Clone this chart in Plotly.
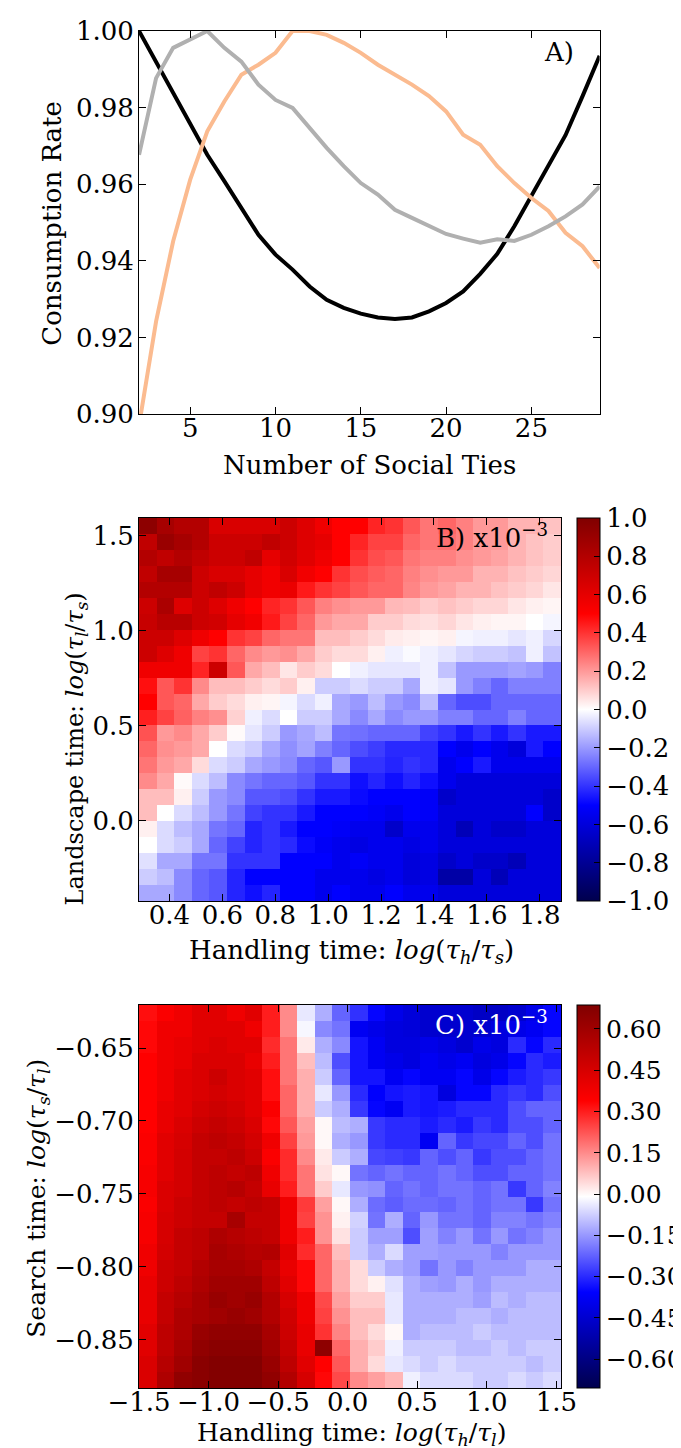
import numpy as np
import plotly.graph_objects as go

FONT = "DejaVu Serif"

# ---------------- Panel A data ----------------
ties = list(range(2, 30))
rate_black = [1.000, 0.9919, 0.9838, 0.9755, 0.9677, 0.9608, 0.9538, 0.9468, 0.9416, 0.9377,
              0.9333, 0.9298, 0.9277, 0.9262, 0.9252, 0.9248, 0.9252, 0.9268, 0.9290, 0.9320,
              0.9366, 0.9418, 0.9490, 0.9571, 0.9650, 0.9728, 0.9830, 0.9935]
rate_grey = [0.9677, 0.9877, 0.9956, 0.9977, 1.000, 0.9956, 0.9920, 0.9860, 0.9820, 0.9799,
             0.9747, 0.9695, 0.9647, 0.9603, 0.9573, 0.9533, 0.9512, 0.9490, 0.9470, 0.9458,
             0.9447, 0.9456, 0.9452, 0.9468, 0.9490, 0.9516, 0.9547, 0.9594]
rate_orange = [0.897, 0.9242, 0.9451, 0.9612, 0.9738, 0.9816, 0.9886, 0.9912, 0.9943, 1.000,
               1.000, 0.9990, 0.9969, 0.9943, 0.9912, 0.9886, 0.9860, 0.9830, 0.9790, 0.9729,
               0.9703, 0.9647, 0.9603, 0.9564, 0.9530, 0.9473, 0.9438, 0.9381]

# ---------------- Panel B data (rows top -> bottom, 24 x 24) ----------------
B_X_EXTENT = [0.285, 1.88]
B_Y_EXTENT = [-0.424, 1.592]
B_Z_TOP_DOWN = [
    [0.95, 0.85, 0.80, 0.80, 0.65, 0.65, 0.65, 0.65, 0.70, 0.63, 0.56, 0.50, 0.50, 0.43, 0.40, 0.33, 0.27, 0.30, 0.25, 0.20, 0.20, 0.15, 0.15, 0.12],
    [0.75, 0.90, 0.85, 0.80, 0.70, 0.70, 0.70, 0.75, 0.70, 0.63, 0.60, 0.50, 0.43, 0.37, 0.37, 0.30, 0.27, 0.28, 0.25, 0.20, 0.20, 0.15, 0.12, 0.10],
    [0.80, 0.75, 0.80, 0.75, 0.70, 0.70, 0.75, 0.60, 0.68, 0.62, 0.56, 0.50, 0.40, 0.35, 0.33, 0.27, 0.25, 0.25, 0.22, 0.20, 0.18, 0.15, 0.12, 0.10],
    [0.75, 0.85, 0.85, 0.70, 0.65, 0.65, 0.60, 0.55, 0.65, 0.55, 0.50, 0.40, 0.35, 0.32, 0.30, 0.25, 0.22, 0.20, 0.20, 0.15, 0.15, 0.12, 0.10, 0.08],
    [0.80, 0.80, 0.80, 0.70, 0.75, 0.70, 0.60, 0.55, 0.58, 0.45, 0.40, 0.37, 0.33, 0.30, 0.30, 0.24, 0.20, 0.18, 0.15, 0.15, 0.12, 0.10, 0.08, 0.05],
    [0.70, 0.83, 0.63, 0.70, 0.63, 0.56, 0.50, 0.43, 0.40, 0.33, 0.25, 0.22, 0.20, 0.20, 0.14, 0.13, 0.10, 0.12, 0.10, 0.08, 0.08, 0.05, 0.03, 0.02],
    [0.72, 0.78, 0.78, 0.70, 0.68, 0.60, 0.55, 0.45, 0.37, 0.30, 0.20, 0.17, 0.17, 0.10, 0.10, 0.07, 0.06, 0.08, 0.05, 0.03, 0.02, 0.02, 0.00, -0.02],
    [0.70, 0.70, 0.63, 0.56, 0.50, 0.40, 0.37, 0.30, 0.27, 0.27, 0.13, 0.13, 0.10, 0.07, 0.04, 0.03, 0.02, 0.03, -0.02, -0.03, -0.03, -0.05, -0.03, -0.08],
    [0.70, 0.63, 0.56, 0.37, 0.40, 0.30, 0.23, 0.20, 0.22, 0.17, 0.10, 0.07, 0.07, 0.03, -0.03, -0.01, -0.03, -0.05, -0.08, -0.10, -0.10, -0.12, -0.03, -0.12],
    [0.56, 0.56, 0.56, 0.43, 0.70, 0.33, 0.17, 0.13, 0.05, 0.10, 0.07, 0.00, -0.03, -0.05, -0.05, -0.05, -0.03, -0.12, -0.20, -0.20, -0.20, -0.18, -0.20, -0.25],
    [0.47, 0.33, 0.40, 0.23, 0.13, 0.13, 0.10, 0.07, 0.10, 0.03, -0.10, -0.10, -0.07, -0.10, -0.10, -0.17, -0.03, -0.05, -0.20, -0.25, -0.30, -0.25, -0.25, -0.25],
    [0.50, 0.33, 0.30, 0.17, 0.10, 0.07, 0.03, 0.02, -0.02, -0.07, -0.03, -0.17, -0.20, -0.13, -0.20, -0.23, -0.13, -0.30, -0.35, -0.35, -0.30, -0.30, -0.30, -0.30],
    [0.44, 0.37, 0.31, 0.25, 0.22, 0.09, -0.03, -0.07, 0.00, -0.10, -0.10, -0.17, -0.23, -0.17, -0.23, -0.20, -0.20, -0.25, -0.25, -0.30, -0.30, -0.25, -0.30, -0.30],
    [0.34, 0.20, 0.23, 0.17, 0.10, 0.01, -0.05, -0.10, -0.20, -0.17, -0.13, -0.27, -0.28, -0.30, -0.30, -0.30, -0.37, -0.40, -0.45, -0.40, -0.45, -0.40, -0.45, -0.45],
    [0.30, 0.22, 0.20, 0.17, 0.00, -0.07, -0.10, -0.17, -0.22, -0.18, -0.25, -0.30, -0.35, -0.38, -0.42, -0.42, -0.42, -0.50, -0.55, -0.50, -0.55, -0.60, -0.45, -0.50],
    [0.27, 0.20, 0.17, 0.07, -0.07, -0.10, -0.17, -0.20, -0.23, -0.30, -0.33, -0.20, -0.40, -0.40, -0.43, -0.40, -0.42, -0.55, -0.50, -0.45, -0.55, -0.55, -0.55, -0.55],
    [0.23, 0.17, 0.01, -0.07, -0.13, -0.23, -0.27, -0.30, -0.30, -0.33, -0.40, -0.40, -0.47, -0.43, -0.47, -0.43, -0.47, -0.55, -0.60, -0.60, -0.60, -0.60, -0.60, -0.60],
    [0.13, 0.13, 0.03, -0.10, -0.20, -0.23, -0.33, -0.33, -0.35, -0.40, -0.45, -0.45, -0.48, -0.50, -0.50, -0.50, -0.52, -0.65, -0.60, -0.60, -0.60, -0.60, -0.60, -0.65],
    [0.13, 0.00, -0.07, -0.13, -0.20, -0.27, -0.37, -0.40, -0.40, -0.45, -0.50, -0.50, -0.50, -0.52, -0.55, -0.50, -0.52, -0.60, -0.60, -0.60, -0.60, -0.60, -0.50, -0.65],
    [0.03, -0.07, -0.13, -0.17, -0.27, -0.30, -0.43, -0.40, -0.45, -0.50, -0.50, -0.52, -0.55, -0.55, -0.65, -0.55, -0.55, -0.60, -0.70, -0.60, -0.65, -0.65, -0.60, -0.60],
    [0.00, -0.07, -0.10, -0.17, -0.30, -0.37, -0.43, -0.40, -0.42, -0.48, -0.52, -0.55, -0.58, -0.55, -0.55, -0.58, -0.55, -0.60, -0.60, -0.60, -0.60, -0.60, -0.60, -0.60],
    [-0.06, -0.17, -0.17, -0.27, -0.27, -0.40, -0.40, -0.40, -0.50, -0.50, -0.50, -0.55, -0.52, -0.55, -0.55, -0.60, -0.58, -0.65, -0.60, -0.65, -0.65, -0.70, -0.60, -0.60],
    [-0.10, -0.13, -0.23, -0.30, -0.33, -0.43, -0.50, -0.50, -0.50, -0.50, -0.55, -0.55, -0.55, -0.58, -0.55, -0.60, -0.58, -0.75, -0.75, -0.60, -0.70, -0.60, -0.60, -0.60],
    [-0.17, -0.17, -0.23, -0.30, -0.33, -0.43, -0.47, -0.43, -0.50, -0.50, -0.55, -0.50, -0.55, -0.55, -0.50, -0.55, -0.55, -0.60, -0.60, -0.60, -0.60, -0.60, -0.60, -0.60],
]

# ---------------- Panel C data (rows top -> bottom, 24 x 24) ----------------
C_X_EXTENT = [-1.5, 1.533]
C_Y_EXTENT = [-0.883, -0.6205]
C_Z_TOP_DOWN = [
    [0.32, 0.35, 0.38, 0.42, 0.42, 0.38, 0.42, 0.30, 0.15, -0.04, -0.12, -0.22, -0.29, -0.35, -0.40, -0.43, -0.45, -0.45, -0.45, -0.47, -0.47, -0.45, -0.40, -0.35],
    [0.33, 0.38, 0.38, 0.42, 0.42, 0.42, 0.38, 0.30, 0.15, -0.02, -0.17, -0.20, -0.38, -0.40, -0.42, -0.43, -0.45, -0.45, -0.45, -0.45, -0.42, -0.40, -0.38, -0.35],
    [0.33, 0.38, 0.40, 0.42, 0.44, 0.42, 0.42, 0.28, 0.18, 0.02, -0.12, -0.17, -0.33, -0.38, -0.42, -0.42, -0.40, -0.42, -0.45, -0.40, -0.42, -0.30, -0.35, -0.30],
    [0.34, 0.38, 0.40, 0.44, 0.44, 0.44, 0.40, 0.30, 0.18, 0.08, -0.10, -0.25, -0.33, -0.38, -0.40, -0.42, -0.38, -0.40, -0.38, -0.42, -0.40, -0.35, -0.30, -0.32],
    [0.34, 0.38, 0.42, 0.44, 0.48, 0.44, 0.42, 0.32, 0.18, 0.10, -0.08, -0.22, -0.33, -0.33, -0.38, -0.35, -0.38, -0.38, -0.35, -0.40, -0.35, -0.32, -0.30, -0.28],
    [0.34, 0.38, 0.42, 0.44, 0.46, 0.44, 0.42, 0.32, 0.20, 0.10, -0.04, -0.15, -0.30, -0.36, -0.33, -0.32, -0.33, -0.42, -0.35, -0.35, -0.30, -0.28, -0.30, -0.25],
    [0.34, 0.40, 0.42, 0.46, 0.48, 0.46, 0.42, 0.35, 0.20, 0.10, -0.08, -0.12, -0.28, -0.35, -0.38, -0.32, -0.33, -0.32, -0.30, -0.30, -0.30, -0.25, -0.22, -0.22],
    [0.34, 0.40, 0.44, 0.48, 0.50, 0.48, 0.44, 0.33, 0.22, 0.12, 0.00, -0.10, -0.12, -0.28, -0.30, -0.30, -0.32, -0.30, -0.32, -0.28, -0.30, -0.25, -0.25, -0.22],
    [0.35, 0.42, 0.45, 0.50, 0.52, 0.50, 0.46, 0.38, 0.25, 0.13, 0.00, -0.12, -0.15, -0.28, -0.30, -0.30, -0.38, -0.22, -0.28, -0.26, -0.26, -0.22, -0.25, -0.20],
    [0.35, 0.42, 0.46, 0.50, 0.50, 0.52, 0.48, 0.35, 0.28, 0.15, 0.02, -0.08, -0.12, -0.26, -0.27, -0.28, -0.22, -0.25, -0.22, -0.28, -0.25, -0.25, -0.22, -0.20],
    [0.36, 0.42, 0.46, 0.50, 0.52, 0.50, 0.52, 0.38, 0.28, 0.18, 0.03, 0.00, -0.20, -0.22, -0.20, -0.22, -0.22, -0.20, -0.22, -0.25, -0.25, -0.22, -0.22, -0.20],
    [0.36, 0.44, 0.46, 0.50, 0.52, 0.54, 0.50, 0.40, 0.30, 0.18, 0.06, -0.04, -0.15, -0.16, -0.22, -0.20, -0.22, -0.20, -0.20, -0.22, -0.20, -0.28, -0.22, -0.18],
    [0.35, 0.44, 0.48, 0.50, 0.52, 0.50, 0.52, 0.50, 0.38, 0.26, 0.12, 0.00, -0.12, -0.21, -0.23, -0.21, -0.21, -0.22, -0.20, -0.22, -0.20, -0.20, -0.28, -0.20],
    [0.36, 0.45, 0.48, 0.50, 0.50, 0.58, 0.50, 0.50, 0.38, 0.25, 0.14, 0.01, -0.07, -0.20, -0.12, -0.22, -0.15, -0.20, -0.20, -0.22, -0.18, -0.18, -0.20, -0.18],
    [0.36, 0.45, 0.50, 0.52, 0.56, 0.54, 0.52, 0.50, 0.38, 0.30, 0.14, 0.03, -0.08, -0.14, -0.14, -0.25, -0.14, -0.18, -0.15, -0.20, -0.15, -0.20, -0.18, -0.15],
    [0.38, 0.46, 0.50, 0.52, 0.58, 0.56, 0.54, 0.55, 0.42, 0.28, 0.20, 0.08, -0.08, -0.12, -0.06, -0.14, -0.14, -0.15, -0.15, -0.15, -0.18, -0.15, -0.15, -0.15],
    [0.38, 0.48, 0.50, 0.55, 0.58, 0.58, 0.56, 0.50, 0.40, 0.33, 0.20, 0.10, 0.04, -0.08, -0.12, -0.14, -0.20, -0.15, -0.18, -0.15, -0.15, -0.15, -0.12, -0.12],
    [0.40, 0.48, 0.52, 0.56, 0.60, 0.60, 0.60, 0.52, 0.42, 0.33, 0.20, 0.10, 0.04, 0.01, -0.05, -0.12, -0.14, -0.15, -0.12, -0.15, -0.12, -0.12, -0.12, -0.12],
    [0.40, 0.50, 0.54, 0.58, 0.62, 0.60, 0.62, 0.55, 0.45, 0.38, 0.24, 0.12, 0.06, 0.06, -0.04, -0.12, -0.12, -0.12, -0.12, -0.14, -0.10, -0.12, -0.10, -0.10],
    [0.40, 0.50, 0.56, 0.58, 0.60, 0.62, 0.60, 0.55, 0.47, 0.38, 0.25, 0.14, 0.08, 0.08, -0.04, -0.12, -0.12, -0.12, -0.10, -0.10, -0.12, -0.10, -0.10, -0.10],
    [0.42, 0.52, 0.56, 0.62, 0.64, 0.64, 0.64, 0.58, 0.48, 0.40, 0.27, 0.16, 0.08, 0.04, 0.00, -0.12, -0.10, -0.10, -0.10, -0.08, -0.10, -0.10, -0.10, -0.10],
    [0.42, 0.52, 0.58, 0.64, 0.66, 0.66, 0.66, 0.60, 0.50, 0.40, 0.65, 0.20, 0.10, 0.06, -0.03, -0.08, -0.08, -0.08, -0.10, -0.10, -0.08, -0.10, -0.08, -0.08],
    [0.44, 0.54, 0.60, 0.66, 0.68, 0.68, 0.68, 0.62, 0.52, 0.42, 0.34, 0.22, 0.10, 0.04, -0.04, -0.06, -0.08, -0.06, -0.08, -0.08, -0.08, -0.08, -0.10, -0.08],
    [0.44, 0.56, 0.64, 0.66, 0.68, 0.68, 0.68, 0.64, 0.55, 0.45, 0.33, 0.24, 0.15, 0.12, 0.09, -0.03, -0.06, -0.06, -0.06, -0.08, -0.08, -0.06, -0.08, -0.06],
]
C_ZMIN, C_ZMAX = -0.705, 0.687

# tick labels
A_XTICKS = [5, 10, 15, 20, 25]
A_YTICKS = [0.90, 0.92, 0.94, 0.96, 0.98, 1.00]
B_XTICKS = [0.4, 0.6, 0.8, 1.0, 1.2, 1.4, 1.6, 1.8]
B_YTICKS = [0.0, 0.5, 1.0, 1.5]
B_CTICKS = [-1.0, -0.8, -0.6, -0.4, -0.2, 0.0, 0.2, 0.4, 0.6, 0.8, 1.0]
C_XTICKS = [-1.5, -1.0, -0.5, 0.0, 0.5, 1.0, 1.5]
C_YTICKS = [-0.85, -0.80, -0.75, -0.70, -0.65]
C_CTICKS = [-0.60, -0.45, -0.30, -0.15, 0.00, 0.15, 0.30, 0.45, 0.60]

SEISMIC = [[0.0, "rgb(0,0,77)"], [0.25, "rgb(0,0,255)"], [0.5, "rgb(255,255,255)"],
           [0.75, "rgb(255,0,0)"], [1.0, "rgb(128,0,0)"]]

W, H = 681, 1448


def px_x(p):
    return p / W


def px_y(p):
    return 1 - p / H


fig = go.Figure()

# Panel A lines
fig.add_trace(go.Scatter(x=ties, y=rate_black, mode="lines", line=dict(color="black", width=4),
                         xaxis="x", yaxis="y", showlegend=False))
fig.add_trace(go.Scatter(x=ties, y=rate_orange, mode="lines", line=dict(color="#fbbb90", width=4),
                         xaxis="x", yaxis="y", showlegend=False))
fig.add_trace(go.Scatter(x=ties, y=rate_grey, mode="lines", line=dict(color="#b0b0b0", width=4),
                         xaxis="x", yaxis="y", showlegend=False))

# Panel B heatmap
bx = np.linspace(B_X_EXTENT[0], B_X_EXTENT[1], len(B_Z_TOP_DOWN[0]) + 1)
by = np.linspace(B_Y_EXTENT[0], B_Y_EXTENT[1], len(B_Z_TOP_DOWN) + 1)
fig.add_trace(go.Heatmap(
    x=bx, y=by, z=B_Z_TOP_DOWN[::-1], zmin=-1.0, zmax=1.0, colorscale=SEISMIC,
    xaxis="x2", yaxis="y2", zsmooth=False,
    colorbar=dict(x=px_x(573), xanchor="left", xpad=0, ypad=0, thickness=23,
                  lenmode="fraction", len=383 / H, y=px_y((510 + 893) / 2), yanchor="middle",
                  outlinewidth=1, outlinecolor="black", ticks="inside", ticklen=6, tickcolor="black",
                  tickvals=B_CTICKS, tickformat=".1f",
                  tickfont=dict(family=FONT, size=26, color="black")),
))

# Panel C heatmap
cx = np.linspace(C_X_EXTENT[0], C_X_EXTENT[1], len(C_Z_TOP_DOWN[0]) + 1)
cy = np.linspace(C_Y_EXTENT[0], C_Y_EXTENT[1], len(C_Z_TOP_DOWN) + 1)
fig.add_trace(go.Heatmap(
    x=cx, y=cy, z=C_Z_TOP_DOWN[::-1], zmin=C_ZMIN, zmax=C_ZMAX, colorscale=SEISMIC,
    xaxis="x3", yaxis="y3", zsmooth=False,
    colorbar=dict(x=px_x(573), xanchor="left", xpad=0, ypad=0, thickness=23,
                  lenmode="fraction", len=383 / H, y=px_y((997 + 1380) / 2), yanchor="middle",
                  outlinewidth=1, outlinecolor="black", ticks="inside", ticklen=6, tickcolor="black",
                  tickvals=C_CTICKS, tickformat=".2f",
                  tickfont=dict(family=FONT, size=25, color="black")),
))

tickfont = dict(family=FONT, size=26, color="black")


def ax(domain, rng, tickvals, fmt, anchor, is_x):
    d = dict(domain=domain, range=rng, tickvals=tickvals, tickformat=fmt,
             showline=True, linecolor="black", linewidth=1, mirror="ticks",
             ticks="inside", ticklen=7, tickcolor="black", tickwidth=1,
             showgrid=False, zeroline=False, tickfont=tickfont,
             anchor=anchor, automargin=False)
    d["ticklabelstandoff"] = -9 if is_x else -1
    return d


def title_ann(text, xc, yc, angle, size=26):
    return dict(text=text, x=px_x(xc), y=px_y(yc), xref="paper", yref="paper",
                xanchor="center", yanchor="middle", textangle=angle, showarrow=False,
                font=dict(family=FONT, size=size, color="black"))


annotations = [
    title_ann("Number of Social Ties", 364, 457, 0),
    title_ann("Consumption Rate", 44, 215, -90),
    title_ann("Handling time: <i>log</i>(<i>τ<sub>h</sub></i>/<i>τ<sub>s</sub></i>)", 346, 943, 0),
    title_ann("Landscape time: <i>log</i>(<i>τ<sub>l</sub></i>/<i>τ<sub>s</sub></i>)", 68, 741, -90, 24),
    title_ann("Handling time: <i>log</i>(<i>τ<sub>h</sub></i>/<i>τ<sub>l</sub></i>)", 346, 1426, 0, 25),
    title_ann("Search time: <i>log</i>(<i>τ<sub>s</sub></i>/<i>τ<sub>l</sub></i>)", 30, 1190, -90, 25),
    dict(text="A)", x=px_x(572), y=px_y(44), xref="paper", yref="paper",
         xanchor="right", yanchor="middle", showarrow=False, font=dict(family=FONT, size=26, color="black")),
    dict(text="B) x10<sup>−3</sup>", x=px_x(546), y=px_y(528), xref="paper", yref="paper",
         xanchor="right", yanchor="middle", showarrow=False, font=dict(family=FONT, size=26, color="black")),
    dict(text="C) x10<sup>−3</sup>", x=px_x(546), y=px_y(1015), xref="paper", yref="paper",
         xanchor="right", yanchor="middle", showarrow=False, font=dict(family=FONT, size=26, color="white")),
]

fig.update_layout(
    width=W, height=H, margin=dict(l=0, r=0, t=0, b=0),
    paper_bgcolor="white", plot_bgcolor="white",
    font=dict(family=FONT, color="black"),
    xaxis=ax([px_x(132), px_x(596)], [2, 29], A_XTICKS, "d", "y", True),
    yaxis=ax([px_y(406), px_y(23)], [0.90, 1.00], A_YTICKS, ".2f", "x", False),
    xaxis2=ax([px_x(132), px_x(557)], B_X_EXTENT, B_XTICKS, ".1f", "y2", True),
    yaxis2=ax([px_y(893), px_y(510)], B_Y_EXTENT, B_YTICKS, ".1f", "x2", False),
    xaxis3=ax([px_x(132), px_x(557)], C_X_EXTENT, C_XTICKS, ".1f", "y3", True),
    yaxis3=ax([px_y(1380), px_y(997)], C_Y_EXTENT, C_YTICKS, ".2f", "x3", False),
    annotations=annotations,
)

fig.write_html("out.html")
